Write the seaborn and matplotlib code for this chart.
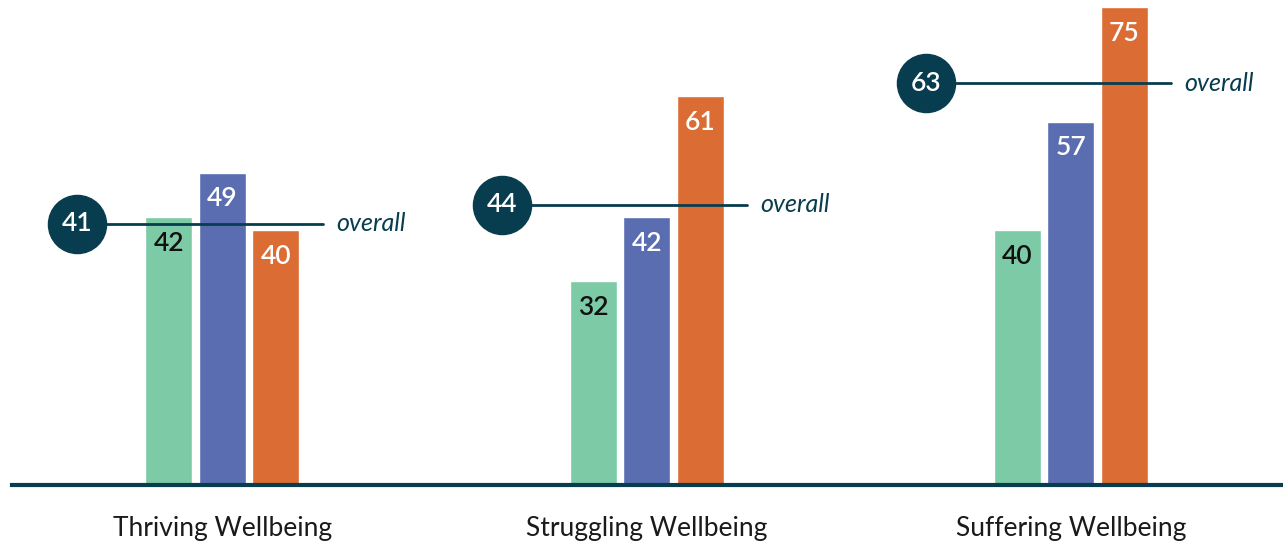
import pandas as pd
import matplotlib.pyplot as plt
import seaborn as sns

# Données
categories = ['Thriving Wellbeing', 'Struggling Wellbeing', 'Suffering Wellbeing']
series = ['A', 'B', 'C']
values_a = [42, 32, 40]
values_b = [49, 42, 57]
values_c = [40, 61, 75]
overall = [41, 44, 63]

palette = ['#7DCAA6', '#5A6DB1', '#DB6C33']
label_colors = ['#111111', 'white', 'white']
dark = '#073D4F'

df = pd.DataFrame({
    'category': categories * 3,
    'series': [s for s in series for _ in categories],
    'value': values_a + values_b + values_c,
})

sns.set_theme(style='white')
plt.rcParams['font.family'] = ['Lato', 'DejaVu Sans']

fig = plt.figure(figsize=(12.83, 5.46), dpi=100)
ax = fig.add_axes([12 / 1283, 61 / 546, 1 - 12 / 1283, 485 / 546])

sns.barplot(data=df, x='category', y='value', hue='series', palette=palette,
            width=0.378, gap=0.12, legend=False, ax=ax, saturation=1)

# Étiquettes dans les barres
for container, col in zip(ax.containers, label_colors):
    for bar in container:
        h = bar.get_height()
        ax.text(bar.get_x() + bar.get_width() / 2, h - 4.1, f'{h:.0f}',
                ha='center', va='center', color=col, fontsize=19, fontweight='semibold')

# Lignes "overall"
for i, v in enumerate(overall):
    ax.plot([i - 0.342, i + 0.236], [v, v], color=dark, lw=2, zorder=4)
    ax.scatter([i - 0.342], [v], s=1750, color=dark, zorder=5, clip_on=False)
    ax.text(i - 0.342, v, f'{v}', ha='center', va='center', color='white',
            fontsize=19, fontweight='semibold', zorder=6)
    ax.text(i + 0.268, v, 'overall', ha='left', va='center', color=dark,
            fontsize=18, style='italic', zorder=6)

ax.set_xlim(-0.496, 2.5)
ax.set_ylim(0, 76.1)
ax.set_xlabel('')
ax.set_ylabel('')
ax.set_yticks([])
sns.despine(ax=ax, left=True)
ax.spines['bottom'].set_color(dark)
ax.spines['bottom'].set_linewidth(3)
ax.tick_params(axis='x', length=0, pad=22, labelsize=19, labelcolor='#1A1A1A')

plt.savefig('out.png', dpi=100)
plt.close()
